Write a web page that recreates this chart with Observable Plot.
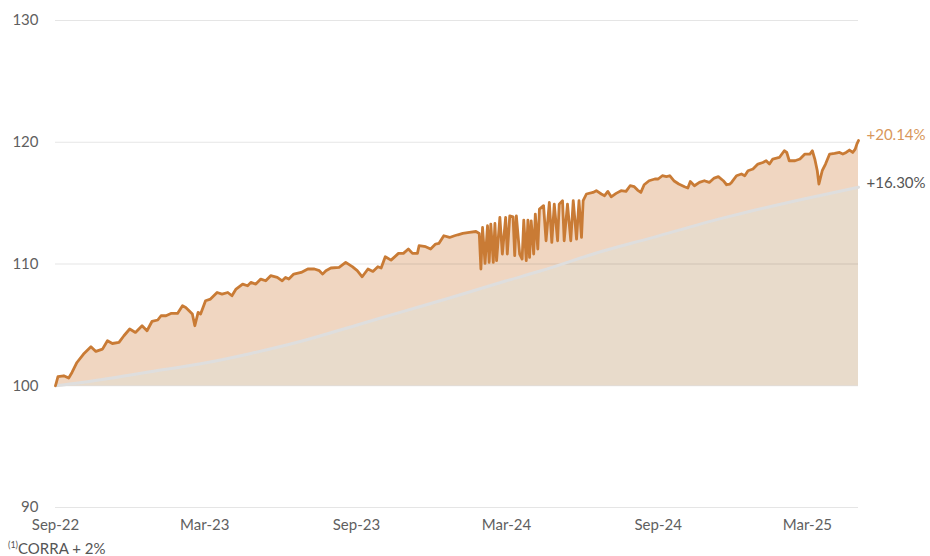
<!DOCTYPE html>
<html>
<head>
<meta charset="utf-8">
<script src="https://cdn.jsdelivr.net/npm/d3@7"></script>
<script src="https://cdn.jsdelivr.net/npm/@observablehq/plot@0.6"></script>
<style>
  html, body { margin: 0; padding: 0; background: #fff; }
  #chart { width: 930px; height: 556px; position: relative; font-family: Lato, "Open Sans", sans-serif; }
  #caption { position: absolute; left: 8px; top: 539px; font-size: 15px; color: #555; line-height: 18px; }
  #caption sup { font-size: 9px; vertical-align: top; position: relative; top: -3px; }
</style>
</head>
<body>
<div id="chart"><div id="caption"><sup>(1)</sup>CORRA + 2%</div></div>
<script>
// ---- data (day offset from start date, index value) ----
const startDate = "2022-09-01";
const endDay = 974;
const fund = [
[0,100.00],[3,100.74],[10,100.82],[16,100.63],[20,101.09],[26,101.91],[34,102.60],[43,103.20],[49,102.82],[57,103.01],[63,103.70],[69,103.47],[77,103.56],[83,104.11],[90,104.66],[97,104.38],[105,104.93],[111,104.52],[117,105.28],[124,105.40],[128,105.75],[134,105.75],[140,105.94],[148,105.94],[154,106.57],[158,106.43],[162,106.16],[166,105.89],[169,104.93],[173,106.02],[176,105.89],[182,106.98],[188,107.12],[196,107.66],[202,107.53],[209,107.66],[214,107.39],[219,107.94],[227,108.35],[233,108.21],[237,108.49],[243,108.35],[249,108.76],[255,108.62],[261,109.04],[269,108.90],[275,108.62],[279,108.90],[283,108.76],[289,109.17],[298,109.31],[306,109.59],[314,109.59],[320,109.45],[324,109.17],[328,109.45],[334,109.67],[344,109.72],[352,110.13],[360,109.78],[366,109.45],[372,108.95],[379,109.59],[385,109.39],[391,109.78],[395,109.67],[400,110.60],[407,110.32],[416,110.87],[422,110.87],[428,111.23],[433,110.87],[439,110.87],[441,111.50],[449,111.42],[455,111.23],[461,111.64],[465,111.69],[471,112.32],[478,112.18],[484,112.32],[488,112.40],[494,112.51],[502,112.59],[510,112.67],[514,112.51],
[516,109.59],[518,113.00],[521,110.05],[524,113.14],[526,110.13],[528,113.28],[531,110.13],[533,113.33],[535,110.27],[539,113.83],[542,110.82],[546,113.83],[548,110.82],[551,113.96],[555,113.88],[557,110.68],[559,113.96],[563,110.82],[566,110.41],[568,113.61],[571,110.27],[573,113.61],[575,110.54],[577,113.55],[580,110.82],[582,114.10],[585,111.23],[587,114.51],[592,114.79],[595,111.91],[599,115.06],[602,111.77],[605,114.92],[609,111.91],[611,114.92],[615,115.20],[617,111.91],[621,114.92],[625,111.91],[628,115.20],[632,112.05],[635,115.20],[638,112.18],[640,115.20],[644,115.75],[652,115.88],[656,116.02],
[662,115.75],[666,115.61],[670,115.96],[674,115.52],[680,115.80],[686,116.02],[692,115.96],[697,116.43],[702,116.35],[706,116.07],[710,115.88],[714,116.51],[720,116.84],[727,116.98],[731,116.98],[736,117.25],[741,117.17],[745,117.25],[750,116.84],[756,116.57],[763,116.35],[767,116.24],[770,116.78],[775,116.43],[781,116.70],[787,116.84],[793,116.70],[799,117.06],[804,117.17],[810,116.84],[814,116.51],[818,116.57],[820,116.70],[826,117.25],[832,117.39],[836,117.25],[840,117.66],[846,117.80],[852,118.21],[858,118.34],[862,118.48],[866,118.21],[870,118.62],[878,118.75],[884,119.30],[887,119.16],[890,118.48],[897,118.48],[903,118.62],[909,119.03],[915,119.03],[918,119.30],[921,118.62],[924,117.66],[926,116.57],[930,117.66],[934,118.21],[939,119.03],[945,119.08],[951,119.16],[955,119.03],[959,119.16],[963,119.36],[967,119.16],[970,119.44],[972,119.85],[974,120.14]
];
const benchmark = [[0,100.00],[55,100.50],[115,101.15],[176,101.80],[237,102.65],[298,103.65],[364,104.95],[419,106.05],[480,107.25],[546,108.60],[587,109.40],[656,110.90],[723,112.15],[808,113.75],[844,114.35],[905,115.30],[974,116.30]];
const xTicks = ["2022-09-01","2023-03-01","2023-09-01","2024-03-01","2024-09-01","2025-03-01"];
const yTicks = [90, 100, 110, 120, 130];
const endLabels = ["+20.14%", "+16.30%"];

// ---- build ----
const start = new Date(startDate + "T00:00:00Z");
const toDate = d => d3.utcDay.offset(start, d);
const fundData = fund.map(([d, v]) => ({date: toDate(d), value: v}));
const benchData = benchmark.map(([d, v]) => ({date: toDate(d), value: v}));
const fundLast = fundData[fundData.length - 1];
const benchLast = benchData[benchData.length - 1];

const chart = Plot.plot({
  width: 930,
  height: 535,
  marginTop: 20,
  marginBottom: 28,
  marginLeft: 55,
  marginRight: 72,
  style: {fontFamily: "Lato, 'Open Sans', sans-serif", fontSize: "15px", color: "#5f5f5f", background: "#fff"},
  x: {type: "utc", domain: [start, toDate(endDay)]},
  y: {domain: [90, 130]},
  marks: [
    Plot.areaY(fundData, {x: "date", y1: 100, y2: "value", fill: "#f0d6c1"}),
    Plot.areaY(benchData, {x: "date", y1: 100, y2: "value", fill: "#e8dbcb", curve: "monotone-x"}),
    Plot.ruleY(yTicks, {stroke: "#000", strokeOpacity: 0.1, strokeWidth: 1}),
    Plot.lineY(benchData, {x: "date", y: "value", stroke: "#dedede", strokeWidth: 3, curve: "monotone-x"}),
    Plot.lineY(fundData, {x: "date", y: "value", stroke: "#c97b35", strokeWidth: 2.8}),
    Plot.axisY({ticks: yTicks, tickSize: 0, tickPadding: 17, label: null}),
    Plot.axisX({ticks: xTicks.map(s => new Date(s + "T00:00:00Z")), tickSize: 0, tickPadding: 12, tickFormat: d3.utcFormat("%b-%y"), label: null}),
    Plot.text([fundLast], {x: "date", y: "value", text: () => endLabels[0], textAnchor: "start", dx: 8, dy: -5, fill: "#d8975b", fontSize: 15}),
    Plot.text([benchLast], {x: "date", y: "value", text: () => endLabels[1], textAnchor: "start", dx: 8, dy: -4, fill: "#555", fontSize: 15})
  ]
});
const el = document.getElementById("chart");
el.insertBefore(chart, el.firstChild);
</script>
</body>
</html>
